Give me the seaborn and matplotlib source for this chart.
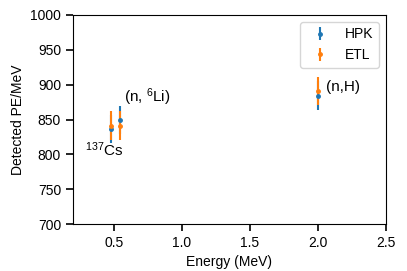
import numpy as np
import seaborn as sns
import matplotlib
matplotlib.use("Agg")
import matplotlib.pyplot as plt

# data
energy = [0.478, 0.55, 2.0]
hpk_pe = [836, 849, 884]
hpk_err = [20, 20, 21]
etl_pe = [841, 841, 891]
etl_err = [21, 21, 20]
labels = ["$^{137}$Cs", "(n, $^{6}$Li)", "(n,H)"]

sns.set_style("ticks")
plt.rcParams["font.family"] = ["Liberation Sans", "DejaVu Sans"]
plt.rcParams["font.size"] = 10
plt.rcParams["mathtext.default"] = "regular"
for k in ["axes.edgecolor", "xtick.color", "ytick.color", "text.color", "axes.labelcolor"]:
    plt.rcParams[k] = "black"

colors = sns.color_palette("tab10")

fig = plt.figure(figsize=(4.07, 2.71), dpi=100)
ax = fig.add_axes([0.179, 0.173, 0.769, 0.772])

ax.errorbar(energy, hpk_pe, yerr=hpk_err, fmt="o", ms=2.5, lw=1.5,
            color=colors[0], label="HPK")
ax.errorbar(energy, etl_pe, yerr=etl_err, fmt="o", ms=2.5, lw=1.5,
            color=colors[1], label="ETL")

# annotations
ax.text(0.288, 798, labels[0], fontsize=11)
ax.text(0.575, 875, labels[1], fontsize=11)
ax.text(2.06, 891, labels[2], fontsize=11)

ax.set_xlim(0.2, 2.5)
ax.set_ylim(700, 1000)
ax.set_xticks([0.5, 1.0, 1.5, 2.0, 2.5])
ax.set_yticks(np.arange(700, 1001, 50))
ax.tick_params(axis="both", which="major", bottom=True, left=True,
               direction="out", length=5, width=1.2, color="black")
ax.set_xlabel("Energy (MeV)")
ax.set_ylabel("Detected PE/MeV")
ax.legend(loc="upper right", fontsize=10)

fig.savefig("out.png", dpi=100)
